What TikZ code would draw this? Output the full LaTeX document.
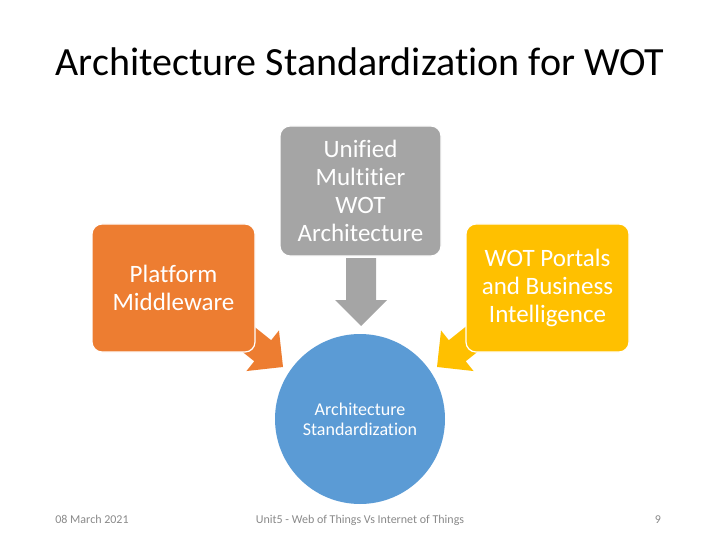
\documentclass[tikz,border=0pt]{standalone}
\usepackage{fontspec}
\setmainfont{Carlito}[Ligatures={NoCommon}]
\definecolor{cOrange}{HTML}{ED7D31}
\definecolor{cYellow}{HTML}{FFC000}
\definecolor{cGray}{HTML}{A5A5A5}
\definecolor{cBlue}{HTML}{5B9BD5}
\definecolor{cFoot}{HTML}{898989}
% #1 colour, #2 tip coordinate, #3 angle, #4 shaft width, #5 head width, #6 head length, #7 total length
\newcommand\blockarr[7]{%
  \begin{scope}[shift={(#2)}, rotate=#3]
    \fill[#1] (0,0) -- (-#6,#5/2) -- (-#6,#4/2) -- (-#7,#4/2) -- (-#7,-#4/2) -- (-#6,-#4/2) -- (-#6,-#5/2) -- cycle;
  \end{scope}}
\begin{document}
\begin{tikzpicture}[x=1pt,y=-1pt,
  box/.style={rounded corners=10pt, draw=white, line width=1.2pt, minimum width=163pt,
    minimum height=128pt, text=white, align=center, inner sep=0pt,
    font=\fontsize{25}{28}\selectfont},
  foot/.style={text=cFoot, font=\fontsize{12}{14}\selectfont, inner sep=0pt, anchor=base}]
\useasboundingbox (0,0) rectangle (720,540);
\node[font=\fontsize{40}{48}\selectfont, inner sep=0pt] (title) at (360,62) {Architecture Standardization for WOT};

\coordinate (tipL) at (283,367);
\coordinate (tipR) at (437,367);
\coordinate (tipG) at (361,326);
\blockarr{cOrange}{tipL}{-38.7}{27}{52}{26}{60}
\blockarr{cYellow}{tipR}{-141.3}{27}{52}{26}{60}
\blockarr{cGray}{tipG}{-90}{30}{52}{26}{68}

\node[box, fill=cGray, minimum width=161pt, minimum height=130pt] (arch) at (360.5,191) {Unified\\Multitier\\WOT\\Architecture};
\node[box, fill=cOrange] (mid) at (173.5,288) {Platform\\Middleware};
\node[box, fill=cYellow] (portal) at (547.5,288) {WOT Portals\\and Business\\Intelligence};
\node[circle, fill=cBlue, minimum size=170pt, inner sep=0pt, text=white, align=center,
  font=\fontsize{18}{20}\selectfont] (std) at (360,419) {Architecture\\Standardization};

\node[foot] (date) at (92,523) {08 March 2021};
\node[foot] (unit) at (360,523) {Unit5 - Web of Things Vs Internet of Things};
\node[foot] (page) at (658,523) {9};
\end{tikzpicture}
\end{document}
